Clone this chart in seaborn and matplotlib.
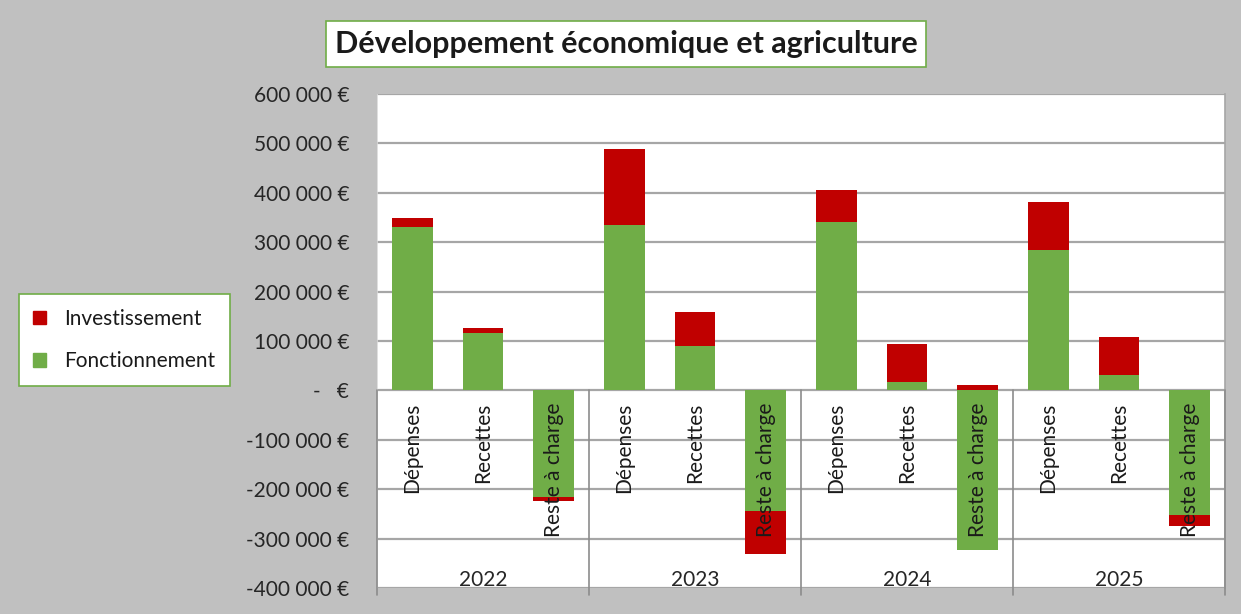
import matplotlib
matplotlib.use("Agg")
import matplotlib.pyplot as plt
import matplotlib.transforms as mtransforms
from matplotlib.patches import Patch
from matplotlib.ticker import FuncFormatter
import seaborn as sns
import pandas as pd

# ---------------- data ----------------
years = ["2022", "2023", "2024", "2025"]
subcats = ["Dépenses", "Recettes", "Reste à charge"]
# values in euros, per year: Dépenses, Recettes, Reste à charge
fonctionnement = [331000, 116000, -215000,
                  334000, 90000, -244000,
                  341000, 18000, -323000,
                  284000, 32000, -253000]
investissement = [18000, 10000, -8000,
                  155000, 68000, -87000,
                  65000, 76000, 11000,
                  97000, 76000, -22000]
yticks = [-400000, -300000, -200000, -100000, 0, 100000, 200000, 300000, 400000, 500000, 600000]

RED = "#C00000"
GREEN = "#70AD47"
BG = "#C0C0C0"
GRID = "#A6A6A6"
FS = 15

sns.set_style("white")
plt.rcParams["font.family"] = ["Lato", "DejaVu Sans"]

keys = [f"{y}|{c}" for y in years for c in subcats]
# red layer: stacked on top of green when same sign, else from zero
red_heights = [f + i if (f >= 0) == (i >= 0) else i for f, i in zip(fonctionnement, investissement)]
df = pd.DataFrame({"key": keys, "fonct": fonctionnement, "red": red_heights})

W, H = 1241, 614
fig = plt.figure(figsize=(W / 100, H / 100), dpi=100, facecolor=BG)
ax = fig.add_axes([377 / W, 1 - 588 / H, (1225 - 377) / W, (588 - 94) / H])
ax.set_facecolor("white")

sns.barplot(data=df, x="key", y="red", order=keys, color=RED, saturation=1,
            width=0.58, ax=ax, linewidth=0, zorder=3)
sns.barplot(data=df, x="key", y="fonct", order=keys, color=GREEN, saturation=1,
            width=0.58, ax=ax, linewidth=0, zorder=3)

ax.set_ylim(-400000, 600000)
ax.set_xlim(-0.5, len(keys) - 0.5)
ax.set_yticks(yticks)


def fmt(v, pos):
    if v == 0:
        return "-   €"
    s = f"{abs(int(v)):,}".replace(",", " ")
    return ("-" if v < 0 else "") + s + " €"


ax.yaxis.set_major_formatter(FuncFormatter(fmt))
ax.tick_params(axis="y", length=0, pad=20, labelsize=FS, labelcolor="#262626")
ax.set_xticks([])
ax.set_xlabel("")
ax.set_ylabel("")
for yv in yticks:
    ax.axhline(yv, color=GRID, lw=1.6, zorder=1)
for s in ax.spines.values():
    s.set_visible(False)
ax.spines["right"].set_visible(True)
ax.spines["right"].set_color(GRID)
ax.spines["right"].set_linewidth(1.2)
ax.axvline(-0.5, color="#D9D9D9", lw=1.2, zorder=1)

# category separators below zero
trans = mtransforms.blended_transform_factory(ax.transData, ax.transAxes)
for b in range(len(years) + 1):
    xb = b * len(subcats) - 0.5
    ax.plot([xb, xb], [0.4, -0.015], transform=trans, color="#8C8C8C", lw=1.2,
            clip_on=False, zorder=4)

# sub-category labels
for i, k in enumerate(keys):
    ax.text(i, -24000, k.split("|")[1], rotation=90, ha="center", va="top",
            fontsize=FS, color="#1A1A1A", zorder=5)
# year labels
for j, y in enumerate(years):
    ax.text(j * len(subcats) + 1, -384000, y, ha="center", va="center",
            fontsize=FS, color="#262626", zorder=5)

# title
fig.text(626 / W, 1 - 44 / H, "Développement économique et agriculture",
         ha="center", va="center", fontsize=22, fontweight="bold", color="#1A1A1A",
         bbox=dict(boxstyle="square,pad=0.28", fc="white", ec=GREEN, lw=1.2))

# legend
handles = [Patch(facecolor=RED, edgecolor=RED, label="Investissement"),
           Patch(facecolor=GREEN, edgecolor=GREEN, label="Fonctionnement")]
leg = fig.legend(handles=handles, loc="center", bbox_to_anchor=(124.5 / W, 1 - 340 / H),
                 frameon=True, fancybox=False, framealpha=1, fontsize=FS,
                 handlelength=0.6, handleheight=0.6, labelspacing=1.1, borderpad=0.7,
                 handletextpad=0.9, borderaxespad=0)
leg.get_frame().set_edgecolor(GREEN)
leg.get_frame().set_linewidth(1.2)
leg.get_frame().set_facecolor("white")
for t in leg.get_texts():
    t.set_color("#1A1A1A")

fig.savefig("out.png", dpi=100, facecolor=BG)
